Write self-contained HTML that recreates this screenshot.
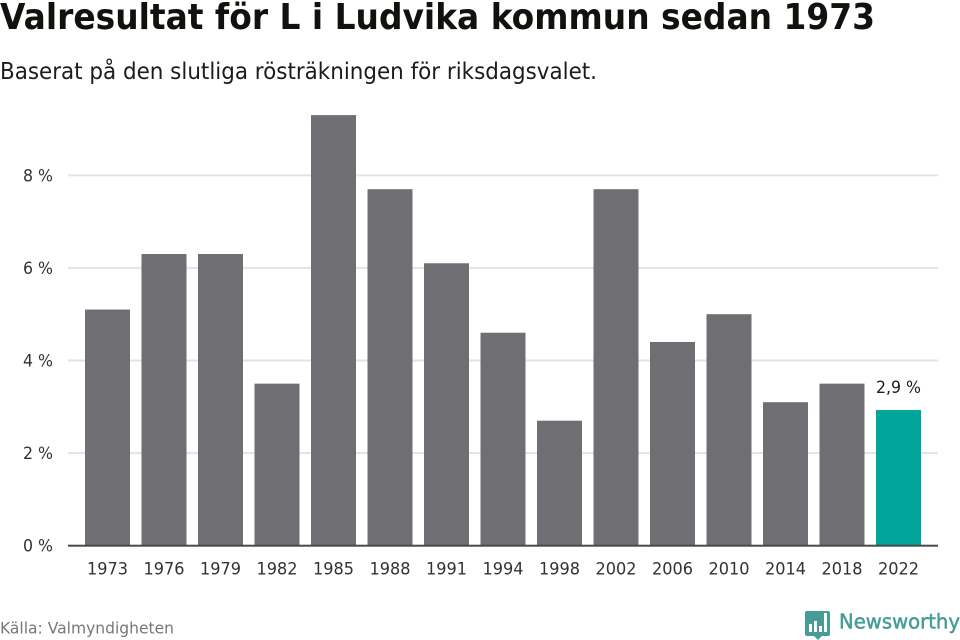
<!DOCTYPE html>
<html lang="sv">
<head>
<meta charset="utf-8">
<title>Valresultat för L i Ludvika kommun sedan 1973</title>
<style>
html,body{margin:0;padding:0;background:#fff;width:960px;height:640px;overflow:hidden}
svg{display:block}
text{font-family:"DejaVu Sans","Liberation Sans",sans-serif}
</style>
</head>
<body>
<svg id="chart" width="960" height="640" viewBox="0 0 960 640" xmlns="http://www.w3.org/2000/svg">
<text x="0" y="29" font-size="36" font-weight="700" fill="#11110d" textLength="875" lengthAdjust="spacingAndGlyphs">Valresultat för L i Ludvika kommun sedan 1973</text>
<text x="0" y="79" font-size="23" fill="#1c1c1c" textLength="597" lengthAdjust="spacingAndGlyphs">Baserat på den slutliga rösträkningen för riksdagsvalet.</text>
<g id="grid"></g>
<g id="bars"></g>
<g id="xlabels"></g>
<text x="0" y="633.5" font-size="16" fill="#77777a" textLength="174" lengthAdjust="spacingAndGlyphs">Källa: Valmyndigheten</text>
<g>
<path d="M807 611h21a2 2 0 0 1 2 2v21a2 2 0 0 1-2 2h-6l-4 4-4-4h-7a2 2 0 0 1-2-2v-21a2 2 0 0 1 2-2z" fill="#479c98"/>
<rect x="809" y="624" width="3" height="8" fill="#fff"/>
<rect x="814" y="621" width="3" height="11" fill="#fff"/>
<rect x="819" y="626" width="3" height="6" fill="#fff"/>
<rect x="824" y="613" width="3" height="19" fill="#fff"/>
<text x="839" y="628.5" font-size="20.5" fill="#479c98" stroke="#479c98" stroke-width="0.5" textLength="121" lengthAdjust="spacingAndGlyphs">Newsworthy</text>
</g>
</svg>
<script>
const categories = ["1973","1976","1979","1982","1985","1988","1991","1994","1998","2002","2006","2010","2014","2018","2022"];
const seriesValues = [5.1,6.3,6.3,3.5,9.3,7.7,6.1,4.6,2.7,7.7,4.4,5.0,3.1,3.5,2.93];
const yTicks = [0,2,4,6,8];
const valueLabel = "2,9 %";

const NS = "http://www.w3.org/2000/svg";
const plotLeft = 68, plotRight = 938, baseY = 545.7, unitY = 46.3;
const firstBandStart = 85, bandStep = 56.5, barW = 45;
const yScale = v => baseY - v * unitY;
const xScale = i => firstBandStart + i * bandStep;

function make(tag, attrs, parent, txt) {
  const el = document.createElementNS(NS, tag);
  for (const k in attrs) el.setAttribute(k, attrs[k]);
  if (txt !== undefined) el.textContent = txt;
  parent.appendChild(el);
  return el;
}

const grid = document.getElementById("grid");
const bars = document.getElementById("bars");
const xl = document.getElementById("xlabels");

yTicks.forEach(t => {
  const y = yScale(t);
  if (t !== 0) {
    const line = make("rect", {x: plotLeft, y: y - 1, width: plotRight - plotLeft, height: 2, fill: "#e3e3e3"}, grid);
    
    
  }
  const label = make("text", {x: 53, y: y + 6, "text-anchor": "end", "font-size": 16.5, fill: "#333", textLength: 30, lengthAdjust: "spacingAndGlyphs"}, grid, t + " %");
  
  
});

const lastIndex = categories.length - 1;
categories.forEach((c, i) => {
  const v = seriesValues[i];
  const y = yScale(v);
  const bar = make("rect", {x: xScale(i), y: y, width: barW, height: baseY - y, fill: i === lastIndex ? "#00a59a" : "#6f6e73"}, bars);
  
  
  const label = make("text", {x: xScale(i) + barW / 2, y: 574.5, "text-anchor": "middle", "font-size": 16.5, fill: "#333", textLength: 41, lengthAdjust: "spacingAndGlyphs"}, xl, c);
  
  
});

const lastY = yScale(seriesValues[lastIndex]);
const valueText = make("text", {x: xScale(lastIndex) + barW / 2, y: lastY - 17, "text-anchor": "middle", "font-size": 16.5, fill: "#1c1c1c", textLength: 45, lengthAdjust: "spacingAndGlyphs"}, bars, valueLabel);



const axis = make("rect", {x: plotLeft, y: baseY - 1, width: plotRight - plotLeft, height: 2, fill: "#4a4a4d"}, bars);


</script>
</body>
</html>
